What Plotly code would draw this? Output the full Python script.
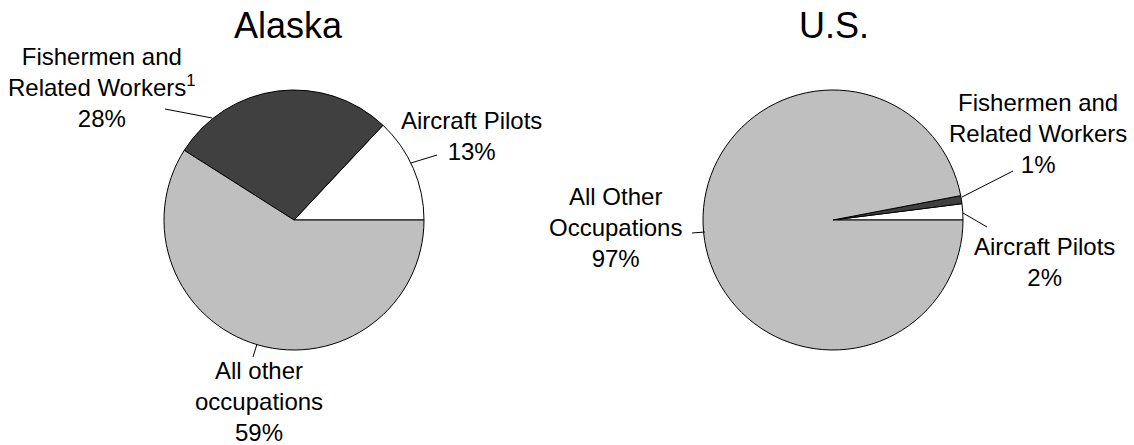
import plotly.graph_objects as go

W, H = 1134, 445

categories = ["Aircraft Pilots", "Fishermen and Related Workers", "All other occupations"]
alaska_values = [13, 28, 59]
us_values = [2, 1, 97]

alaska_labels = [
    "Aircraft Pilots<br>13%",
    "Fishermen and<br>Related Workers<sup>1</sup><br>28%",
    "All other<br>occupations<br>59%",
]
us_labels = [
    "Aircraft Pilots<br>2%",
    "Fishermen and<br>Related Workers<br>1%",
    "All Other<br>Occupations<br>97%",
]
titles = ["Alaska", "U.S."]

FONT = "Arial, Liberation Sans, sans-serif"
slice_colors = ["#ffffff", "#404040", "#bfbfbf"]


def px(x, y):
    return x / W, 1 - y / H


def pie_domain(cx, cy, r):
    x0, y1 = px(cx - r, cy - r)
    x1, y0 = px(cx + r, cy + r)
    return dict(x=[x0, x1], y=[y0, y1])


fig = go.Figure()
for values, (cx, cy) in [(alaska_values, (294, 220)), (us_values, (833, 220))]:
    # first slice sits just above 3 o'clock, the rest follow counterclockwise
    first_deg = 360 * values[0] / sum(values)
    fig.add_trace(
        go.Pie(
            labels=categories,
            values=values,
            sort=False,
            direction="counterclockwise",
            rotation=90 - first_deg,
            textinfo="none",
            hoverinfo="label+percent",
            marker=dict(colors=slice_colors, line=dict(color="#000000", width=1)),
            domain=pie_domain(cx, cy, 130),
        )
    )

annotations = []
for text, (x, y) in zip(titles, [(288, 25), (834, 25)]):
    ax, ay = px(x, y)
    annotations.append(dict(x=ax, y=ay, text=text, font=dict(size=36)))

label_pos = {
    alaska_labels[0]: (471, 136),
    alaska_labels[1]: (102, 87),
    alaska_labels[2]: (259, 401),
    us_labels[0]: (1044, 262),
    us_labels[1]: (1038, 133),
    us_labels[2]: (615, 227),
}
for text, (x, y) in label_pos.items():
    ax, ay = px(x, y)
    annotations.append(dict(x=ax, y=ay, text=text, align="center", font=dict(size=24)))

for a in annotations:
    a.update(xref="paper", yref="paper", showarrow=False,
             xanchor="center", yanchor="middle")
    a["font"]["family"] = FONT
    a["font"]["color"] = "#000000"

# leader lines from labels to slices
leaders = [
    ((165, 109), (212, 118)),
    ((411, 163), (437, 155)),
    ((257, 344), (253, 357)),
    ((1013, 171), (962, 197)),
    ((963, 213), (987, 227)),
    ((692, 233), (705, 232)),
]
shapes = []
for (x0, y0), (x1, y1) in leaders:
    a0, b0 = px(x0, y0)
    a1, b1 = px(x1, y1)
    shapes.append(dict(type="line", xref="paper", yref="paper",
                       x0=a0, y0=b0, x1=a1, y1=b1,
                       line=dict(color="#000000", width=1)))

fig.update_layout(
    width=W,
    height=H,
    margin=dict(l=0, r=0, t=0, b=0),
    showlegend=False,
    paper_bgcolor="#ffffff",
    plot_bgcolor="#ffffff",
    font=dict(family=FONT, size=24, color="#000000"),
    annotations=annotations,
    shapes=shapes,
)

fig.write_html(
    "out.html",
    config={"displayModeBar": False},
    post_script="document.body.style.margin = '0';",
)
